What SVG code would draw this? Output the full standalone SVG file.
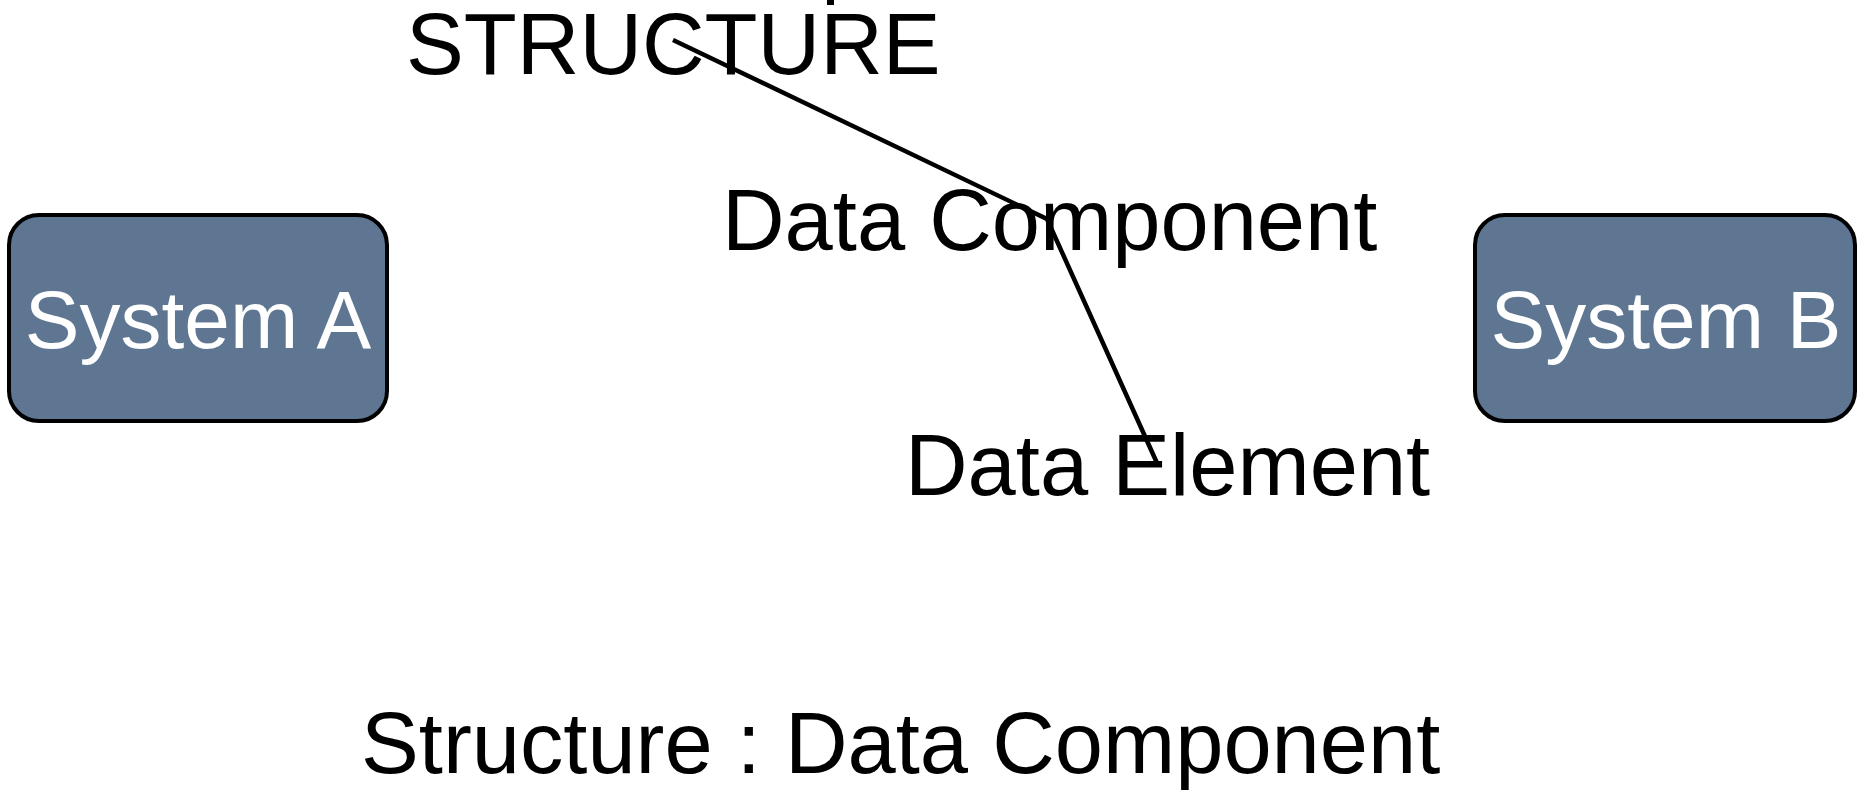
<svg xmlns="http://www.w3.org/2000/svg" width="1866" height="790" viewBox="0 0 1866 790">
<style>
.box{fill:#5e7692;stroke:#000;stroke-width:4}
.lbl{font-family:"Liberation Sans",Arial,sans-serif;font-size:86.7px;fill:#000}
.sys{font-family:"Liberation Sans",Arial,sans-serif;font-size:82px;fill:#fff;text-anchor:middle}
.conn{stroke:#000;stroke-width:4.5;fill:none}
</style>
<rect width="1866" height="790" fill="#fff"/>
<g id="systemA"><rect class="box" x="9" y="215" width="378" height="206" rx="30"/><text class="sys" x="198" y="348">System A</text></g>
<g id="systemB"><rect class="box" x="1475" y="215" width="380" height="206" rx="30"/><text class="sys" x="1666" y="348">System B</text></g>
<g id="structure"><text class="lbl" x="406" y="74">STRUCTURE</text></g>
<g id="dataComponent"><text class="lbl" x="722" y="250">Data Component</text></g>
<g id="dataElement"><text class="lbl" x="905" y="495">Data Element</text></g>
<g id="caption"><text class="lbl" x="361" y="773">Structure : Data Component</text></g>
<g id="connectors">
<polyline class="conn" points="673,40 1047,219 1157,463"/>
<rect x="827" y="0" width="7" height="5" fill="#000"/>
</g>
</svg>
